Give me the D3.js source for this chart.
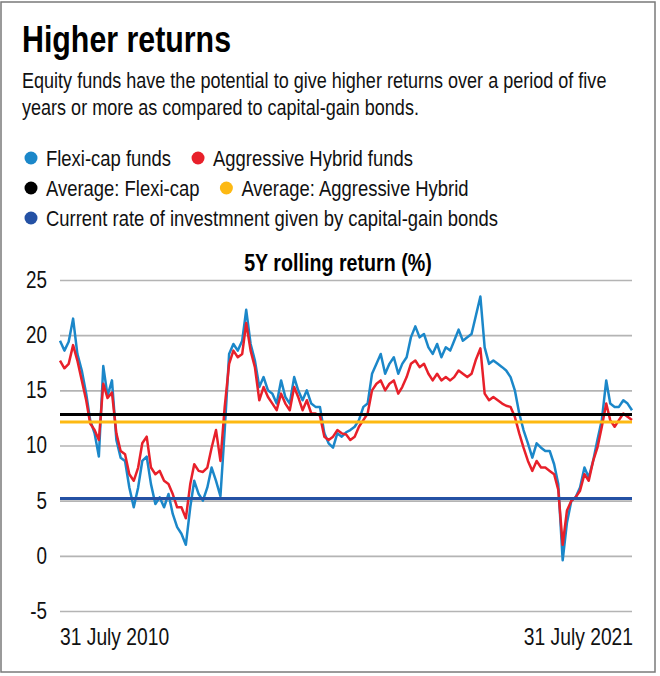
<!DOCTYPE html>
<html>
<head>
<meta charset="utf-8">
<script src="https://cdn.jsdelivr.net/npm/d3@7"></script>
<style>
  body { margin: 0; background: #fff; }
  svg { display: block; font-family: "Liberation Sans", Arial, Helvetica, sans-serif; }
</style>
</head>
<body>
<div id="vis"></div>
<script>
// monthly points, 31 July 2010 .. 31 July 2021
var startDate = new Date(2010, 6, 31),
    endDate = new Date(2021, 6, 31);

var flexiCap = [
  19.5, 18.6, 19.4, 21.5, 18.3, 16.8, 14.7, 12.3, 11.1, 9.0,
  17.2, 14.5, 15.9, 10.5, 8.9, 8.6, 6.2, 4.4, 6.2, 8.6,
  9.0, 6.5, 4.7, 5.3, 4.4, 5.6, 3.8, 2.6, 2.0, 1.0,
  4.4, 6.8, 5.6, 5.0, 6.2, 8.0, 6.8, 5.4, 11.4, 18.3,
  19.2, 18.6, 19.5, 22.3, 19.2, 17.7, 15.3, 16.2, 15.0, 14.7,
  13.8, 15.9, 14.4, 13.8, 16.2, 15.0, 14.1, 15.0, 13.8, 13.5,
  13.5, 11.1, 10.2, 9.8, 11.1, 10.8, 11.2, 11.4, 11.7, 12.3,
  13.5, 13.8, 16.5, 17.4, 18.3, 16.5, 17.4, 18.0, 16.5, 17.4,
  18.0, 19.8, 20.8, 19.8, 20.1, 18.9, 18.3, 19.2, 18.0, 18.9,
  18.6, 19.5, 20.5, 19.5, 19.8, 20.1, 21.8, 23.5, 18.9, 17.4,
  17.7, 17.4, 17.1, 16.8, 16.2, 15.0, 12.9, 11.4, 10.2, 8.9,
  10.2, 9.8, 9.5, 9.5, 8.3, 6.5, -0.4, 3.0, 5.0, 5.3,
  6.2, 8.0, 7.1, 8.6, 10.5, 12.3, 15.9, 13.8, 13.5, 13.5,
  14.1, 13.8, 13.2
];

var aggHybrid = [
  17.7, 17.0, 17.4, 19.1, 17.7, 15.9, 14.1, 12.0, 11.4, 10.5,
  15.6, 14.3, 14.8, 11.1, 9.5, 9.2, 7.4, 6.8, 8.0, 10.2,
  10.8, 8.0, 7.4, 7.7, 6.8, 6.5, 5.6, 4.4, 4.4, 3.4,
  6.5, 8.3, 7.7, 7.6, 8.0, 9.8, 11.4, 8.6, 13.5, 17.4,
  18.6, 18.0, 18.3, 21.1, 18.6, 17.1, 14.1, 15.3, 14.4, 13.8,
  13.2, 14.7, 13.8, 13.2, 15.3, 14.4, 13.2, 14.1, 12.9, 12.9,
  12.7, 10.8, 10.5, 10.8, 11.4, 11.1, 11.0, 10.5, 10.8, 11.7,
  12.3, 12.9, 15.0, 15.6, 15.9, 15.0, 15.6, 15.9, 14.7, 15.3,
  16.2, 17.4, 17.7, 17.1, 17.4, 16.5, 15.9, 16.5, 15.9, 16.2,
  15.9, 16.2, 16.8, 16.5, 16.2, 16.5, 17.8, 18.8, 14.7, 14.1,
  14.4, 14.1, 13.8, 13.6, 13.5, 12.6, 11.1, 9.8, 8.6, 7.7,
  8.6, 8.0, 8.0, 7.7, 7.4, 6.0, 1.0, 4.1, 5.0, 5.3,
  5.9, 7.4, 6.8, 8.6, 9.8, 11.7, 13.8, 12.3, 11.7, 12.3,
  12.9, 12.6, 12.3
];

var avgFlexiCap = 12.82,
    avgAggHybrid = 12.12,
    bondRate = 5.2;

var yTicks = [-5, 0, 5, 10, 15, 20, 25];
var xLabels = ["31 July 2010", "31 July 2021"];

var legendRows = [
  [{label: "Flexi-cap funds", color: "#1b87c9"}, {label: "Aggressive Hybrid funds", color: "#e8202a"}],
  [{label: "Average: Flexi-cap", color: "#000000"}, {label: "Average: Aggressive Hybrid", color: "#fdb913"}],
  [{label: "Current rate of investmnent given by capital-gain bonds", color: "#2451a4"}]
];

var W = 660, H = 676;
var plot = {left: 60, right: 632, top: 280, bottom: 611};
var narrow = 0.82; // squeeze Liberation Sans to a condensed look

// move x/y into a transform and squeeze horizontally
function condense(sel) {
  sel.each(function() {
    var t = d3.select(this),
        tx = +t.attr("x") || 0,
        ty = +t.attr("y") || 0;
    t.attr("x", 0).attr("y", 0)
      .attr("transform", "translate(" + tx + "," + ty + ") scale(" + narrow + ",1)");
  });
  return sel;
}

var svg = d3.select("#vis").append("svg")
  .attr("width", W)
  .attr("height", H);

svg.append("rect")
  .attr("x", 1).attr("y", 2)
  .attr("width", 654).attr("height", 670)
  .attr("fill", "#fff")
  .attr("stroke", "#7a7a7a")
  .attr("stroke-width", 1.5);

svg.append("text")
  .attr("x", 22).attr("y", 52)
  .attr("font-size", 37)
  .attr("font-weight", "bold")
  .attr("fill", "#000")
  .text("Higher returns")
  .call(condense);

svg.selectAll(".sub")
  .data(["Equity funds have the potential to give higher returns over a period of five",
         "years or more as compared to capital-gain bonds."])
  .enter().append("text")
  .attr("class", "sub")
  .attr("x", 22)
  .attr("y", function(d, i) { return 88 + i * 27; })
  .attr("font-size", 22)
  .attr("fill", "#111")
  .text(function(d) { return d; })
  .call(condense);

// legend
var legend = svg.append("g");
legendRows.forEach(function(row, r) {
  var cx = 31, cy = 158 + r * 30;
  row.forEach(function(item) {
    legend.append("circle")
      .attr("cx", cx).attr("cy", cy).attr("r", 6.5)
      .attr("fill", item.color);
    var t = legend.append("text")
      .attr("x", cx + 15).attr("y", cy + 8)
      .attr("font-size", 22.5)
      .attr("fill", "#111")
      .text(item.label)
      .call(condense);
    cx = cx + 15 + t.node().getComputedTextLength() * narrow + 27;
  });
});

svg.append("text")
  .attr("x", 338).attr("y", 271)
  .attr("text-anchor", "middle")
  .attr("font-size", 24)
  .attr("font-weight", "bold")
  .attr("fill", "#000")
  .text("5Y rolling return (%)")
  .call(condense);

var months = d3.timeMonth.range(new Date(2010, 6, 1), new Date(2021, 7, 1)).map(function(d, i, a) {
  return i === 0 ? startDate : (i === a.length - 1 ? endDate : d3.timeDay.offset(d3.timeMonth.offset(d, 1), -1));
});

var x = d3.scaleTime()
  .domain([startDate, endDate])
  .range([plot.left, plot.right]);

var y = d3.scaleLinear()
  .domain([-5, 25])
  .range([plot.bottom, plot.top]);

// grid + y labels
var yAxis = svg.append("g")
  .attr("transform", "translate(" + plot.left + ",0)")
  .call(d3.axisLeft(y)
    .tickValues(yTicks)
    .tickFormat(function(d) { return String(d); })
    .tickSize(-(plot.right - plot.left))
    .tickPadding(13));
yAxis.select(".domain").remove();
yAxis.selectAll(".tick line").attr("stroke", "#b4b4b4").attr("stroke-width", 1.6);
yAxis.selectAll(".tick text")
  .attr("font-size", 23)
  .attr("font-family", "Liberation Sans, Arial, sans-serif")
  .attr("fill", "#111")
  .call(condense);

var line = d3.line()
  .x(function(d, i) { return x(months[i]); })
  .y(function(d) { return y(d); });

svg.append("path")
  .datum(flexiCap)
  .attr("fill", "none")
  .attr("stroke", "#1b87c9")
  .attr("stroke-width", 2.5)
  .attr("stroke-linejoin", "round")
  .attr("d", line);

svg.append("path")
  .datum(aggHybrid)
  .attr("fill", "none")
  .attr("stroke", "#e8202a")
  .attr("stroke-width", 2.5)
  .attr("stroke-linejoin", "round")
  .attr("d", line);

svg.selectAll(".ref")
  .data([{v: bondRate, c: "#2451a4"}, {v: avgAggHybrid, c: "#fdb913"}, {v: avgFlexiCap, c: "#000000"}])
  .enter().append("line")
  .attr("class", "ref")
  .attr("x1", plot.left).attr("x2", plot.right)
  .attr("y1", function(d) { return y(d.v); })
  .attr("y2", function(d) { return y(d.v); })
  .attr("stroke", function(d) { return d.c; })
  .attr("stroke-width", 3);

svg.selectAll(".xlab")
  .data(xLabels)
  .enter().append("text")
  .attr("class", "xlab")
  .attr("x", function(d, i) { return i === 0 ? x(startDate) : x(endDate) + 1; })
  .attr("y", 645)
  .attr("text-anchor", function(d, i) { return i === 0 ? "start" : "end"; })
  .attr("font-size", 23.5)
  .attr("fill", "#111")
  .text(function(d) { return d; })
  .call(condense);
</script>
</body>
</html>
